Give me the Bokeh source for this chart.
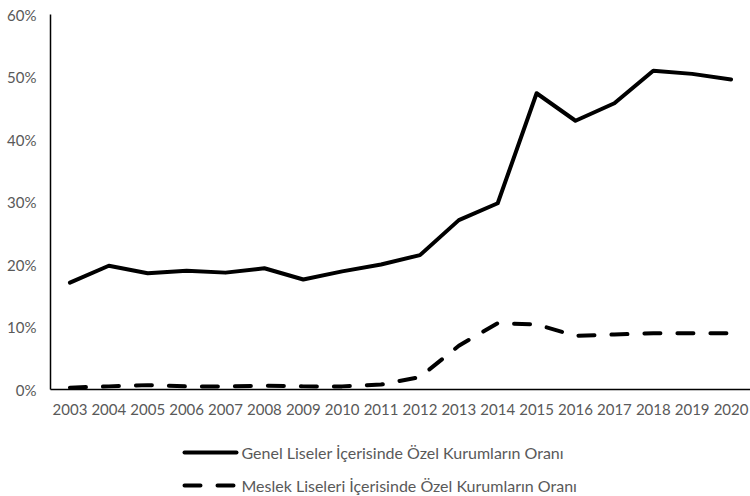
from bokeh.plotting import figure
from bokeh.layouts import column
from bokeh.models import PrintfTickFormatter, FixedTicker, FactorRange, Range1d
from bokeh.core.properties import value
from bokeh.embed import file_html
from bokeh.resources import INLINE

years = [str(y) for y in range(2003, 2021)]
genel = [17.1, 19.8, 18.6, 19.0, 18.7, 19.4, 17.6, 18.9, 20.0, 21.5, 27.1, 29.8, 47.4, 43.0, 45.8, 51.0, 50.5, 49.6]
meslek = [0.3, 0.5, 0.7, 0.5, 0.5, 0.6, 0.5, 0.5, 0.8, 2.0, 7.0, 10.6, 10.4, 8.6, 8.8, 9.0, 9.0, 9.0]
label_genel = "Genel Liseler İçerisinde Özel Kurumların Oranı"
label_meslek = "Meslek Liseleri İçerisinde Özel Kurumların Oranı"
y_ticks = [0, 10, 20, 30, 40, 50, 60]

FONT = "Lato"
GRAY = "#595959"
SOLID = dict(line_color="black", line_width=4, line_join="round", line_cap="round")
DASHED = dict(SOLID, line_dash="16 17")

p = figure(width=750, height=423, x_range=FactorRange(*years), y_range=Range1d(0, 60),
           output_backend="svg", toolbar_location=None,
           min_border_left=50, min_border_right=0, min_border_top=14, min_border_bottom=34)
p.outline_line_color = None
p.grid.visible = False
p.x_range.range_padding = 0

p.line(years, genel, **SOLID)
p.line(years, meslek, **DASHED)

for ax in (p.xaxis[0], p.yaxis[0]):
    ax.axis_line_color = "black"
    ax.axis_line_width = 1.5
    ax.major_tick_line_color = None
    ax.minor_tick_line_color = None
    ax.major_tick_out = 0
    ax.major_tick_in = 0
    ax.major_label_text_font = FONT
    ax.major_label_text_font_size = "15px"
    ax.major_label_text_color = GRAY

p.yaxis[0].ticker = FixedTicker(ticks=y_ticks)
p.yaxis[0].formatter = PrintfTickFormatter(format="%d%%")
p.yaxis[0].major_label_standoff = 14
p.xaxis[0].major_label_standoff = 14

# legend panel below the chart (frame is aligned with the chart frame: x 50..750 px, y downward)
lg = figure(width=750, height=73, output_backend="svg", toolbar_location=None,
            x_axis_location=None, y_axis_location=None,
            min_border_left=50, min_border_right=0, min_border_top=0, min_border_bottom=0,
            x_range=Range1d(50, 750), y_range=Range1d(73, 0))
lg.outline_line_color = None
lg.grid.visible = False
legend_labels = [label_genel, label_meslek]
legend_styles = [SOLID, DASHED]
row_y = [29, 62]
for lab, sty, yy in zip(legend_labels, legend_styles, row_y):
    lg.line([184, 236], [yy, yy], **sty)
    lg.text([241], [yy], text=[lab], text_font=value(FONT), text_font_size="16px",
            text_color=GRAY, text_baseline="middle", text_align="left")

layout = column(p, lg, spacing=0)
open("out.html", "w").write(file_html(layout, INLINE))
